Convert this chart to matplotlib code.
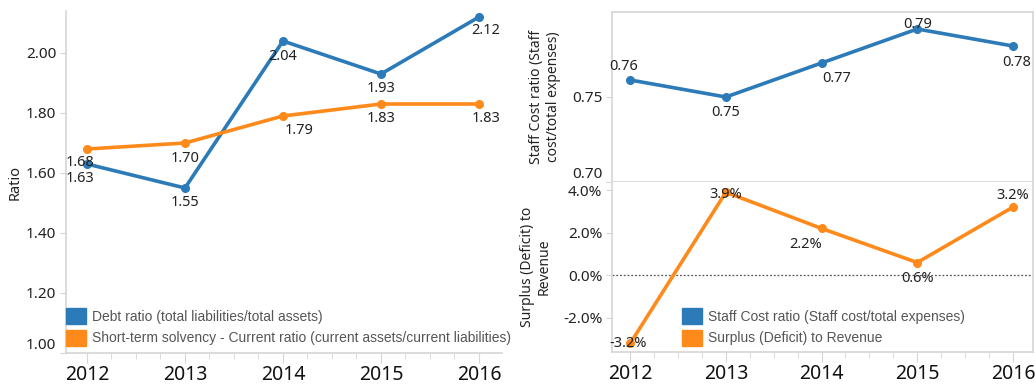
import matplotlib
matplotlib.use("Agg")
import matplotlib.pyplot as plt
from matplotlib.patches import Patch
from matplotlib.ticker import FixedLocator, MultipleLocator, FuncFormatter

years = [2012, 2013, 2014, 2015, 2016]

debt_ratio = [1.63, 1.55, 2.04, 1.93, 2.12]
current_ratio = [1.68, 1.70, 1.79, 1.83, 1.83]
staff_cost = [0.76, 0.75, 0.77, 0.79, 0.78]
surplus_pct = [-3.2, 3.9, 2.2, 0.6, 3.2]

debt_name = "Debt ratio (total liabilities/total assets)"
current_name = "Short-term solvency - Current ratio (current assets/current liabilities)"
staff_name = "Staff Cost ratio (Staff cost/total expenses)"
surplus_name = "Surplus (Deficit) to Revenue"

BLUE = "#2c7bb8"
ORANGE = "#ff8a1c"
FRAME = "#d6d6d6"
TICK_FONT = "Noto Sans"
LEGEND_FONT = "Liberation Sans"

# label offsets (pixels) so values don't sit on the lines
debt_off = [(-7, -14), (0, -15), (0, -16), (0, -14), (7, -14)]
current_off = [(-7, -14), (0, -15), (16, -15), (0, -14), (7, -14)]
staff_off = [(-7, 14), (0, -15), (15, -16), (0, 5), (4, -16)]
surplus_off = [(-2, 0), (0, -2), (-16, -16), (0, -16), (0, 12)]

fig = plt.figure(figsize=(10.35, 3.87), dpi=100)
W, H = 1035, 387


def box(x0, y0, x1, y1):
    return [x0 / W, 1 - y1 / H, (x1 - x0) / W, (y1 - y0) / H]


ax_l = fig.add_axes(box(66, 11, 502, 353))
ax_t = fig.add_axes(box(612, 12, 1033, 182))
ax_b = fig.add_axes(box(612, 182, 1033, 352))


def style(ax):
    for s in ax.spines.values():
        s.set_color(FRAME)
        s.set_linewidth(1.2)
    ax.tick_params(axis="y", colors=FRAME, labelcolor="#222222", length=4,
                   labelsize=11, pad=3)
    ax.tick_params(axis="x", which="major", colors=FRAME, labelcolor="#111111",
                   length=7, labelsize=14, pad=1.5)
    ax.tick_params(axis="x", which="minor", colors=FRAME, length=4)
    ax.xaxis.set_major_locator(FixedLocator(years))
    ax.xaxis.set_minor_locator(MultipleLocator(0.25))
    for lbl in ax.get_yticklabels() + ax.get_xticklabels():
        lbl.set_fontfamily(TICK_FONT)


def plot_series(ax, vals, color, offs, fmt):
    ax.plot(years, vals, color=color, lw=2.6, marker="o", ms=5.5,
            solid_capstyle="round", zorder=3)
    for x, v, (dx, dy) in zip(years, vals, offs):
        ax.annotate(fmt(v), (x, v), xytext=(dx, dy), textcoords="offset pixels",
                    ha="center", va="center", fontsize=10.5, color="#222222",
                    family=TICK_FONT, zorder=4)


def add_legend(ax, handles, x):
    ax.legend(handles=handles, loc="lower left", bbox_to_anchor=(x, 0.005),
              frameon=False, handlelength=1.45, handleheight=1.4,
              handletextpad=0.45, labelspacing=0.4, borderpad=0.1,
              borderaxespad=0.3, prop={"family": LEGEND_FONT, "size": 10},
              labelcolor="#555555")


# left: ratios
plot_series(ax_l, debt_ratio, BLUE, debt_off, lambda v: f"{v:.2f}")
plot_series(ax_l, current_ratio, ORANGE, current_off, lambda v: f"{v:.2f}")
ax_l.set_xlim(2011.786, 2016.235)
ax_l.set_ylim(1.0, 2.14)
ax_l.set_yticks([1.0, 1.2, 1.4, 1.6, 1.8, 2.0])
ax_l.yaxis.set_major_formatter(FuncFormatter(lambda v, p: f"{v:.2f}"))
ax_l.spines["top"].set_visible(False)
ax_l.spines["right"].set_visible(False)
style(ax_l)
ax_l.set_ylabel("Ratio", fontsize=10.5, family=TICK_FONT, color="#222222", labelpad=2)
add_legend(ax_l, [Patch(color=BLUE, label=debt_name),
                  Patch(color=ORANGE, label=current_name)], -0.013)

# right top: staff cost ratio
plot_series(ax_t, staff_cost, BLUE, staff_off, lambda v: f"{v:.2f}")
ax_t.set_xlim(2011.81, 2016.21)
ax_t.set_ylim(0.70, 0.80)
ax_t.set_yticks([0.70, 0.75])
ax_t.yaxis.set_major_formatter(FuncFormatter(lambda v, p: f"{v:.2f}"))
style(ax_t)
ax_t.tick_params(axis="x", which="both", bottom=False, labelbottom=False)
ax_t.set_ylabel("Staff Cost ratio (Staff\ncost/total expenses)", fontsize=10,
                family=TICK_FONT, color="#222222", labelpad=8)

# right bottom: surplus (deficit) to revenue
ax_b.axhline(0, color="#555555", lw=0.9, ls=(0, (1.5, 1.5)), zorder=1)
plot_series(ax_b, surplus_pct, ORANGE, surplus_off, lambda v: f"{v:.1f}%")
ax_b.set_xlim(2011.81, 2016.21)
ax_b.set_ylim(-3.6, 4.38)
ax_b.set_yticks([-2, 0, 2, 4])
ax_b.yaxis.set_major_formatter(FuncFormatter(lambda v, p: f"{v:.1f}%"))
ax_b.spines["top"].set_visible(False)
style(ax_b)
ax_b.set_ylabel("Surplus (Deficit) to\nRevenue", fontsize=10,
                family=TICK_FONT, color="#222222", labelpad=8)
add_legend(ax_b, [Patch(color=BLUE, label=staff_name),
                  Patch(color=ORANGE, label=surplus_name)], 0.152)

# bottom tick labels sit just above the axis floor
for ax, low in ((ax_l, "1.00"), (ax_t, "0.70")):
    fig.canvas.draw()
    for lbl in ax.get_yticklabels():
        if lbl.get_text() == low:
            lbl.set_va("bottom")

fig.savefig("out.png", dpi=100)
